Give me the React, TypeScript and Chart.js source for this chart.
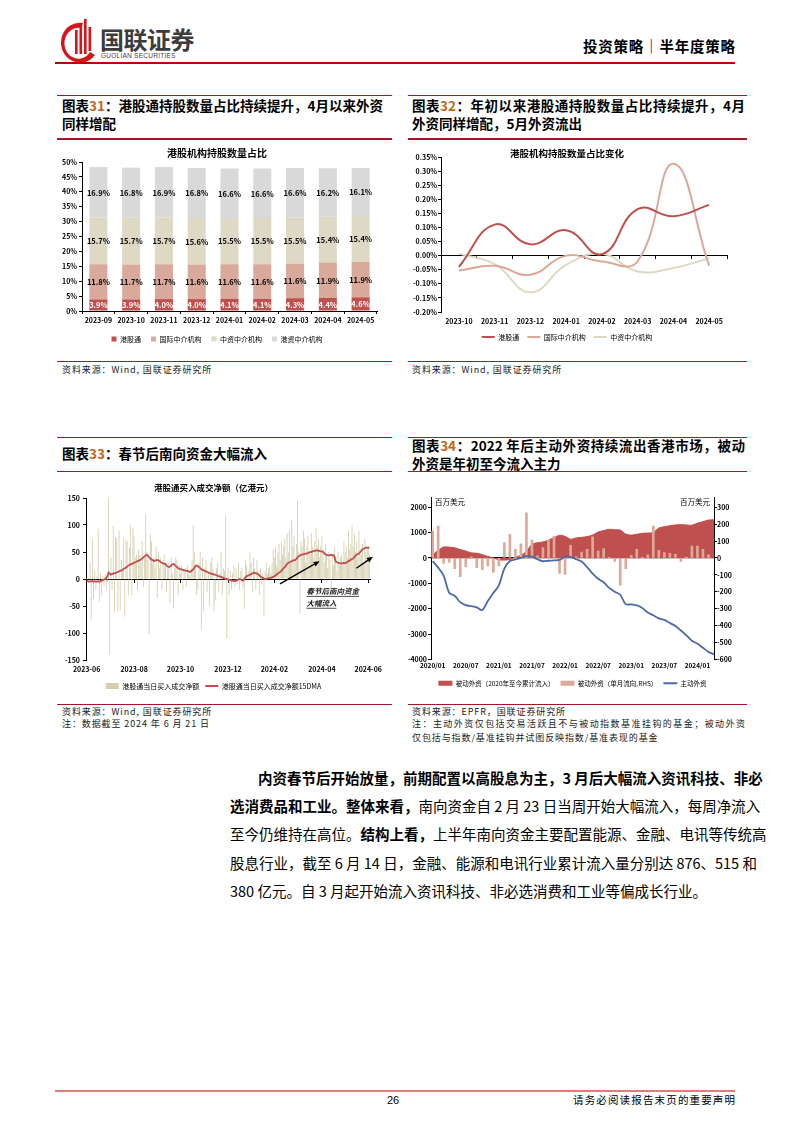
import React, { useEffect, useRef } from 'react';
import { Chart, registerables } from 'chart.js';

Chart.register(...registerables);

const FONT = '"Noto Sans CJK SC", "Noto Sans", sans-serif';
Chart.defaults.font.family = FONT;
Chart.defaults.color = '#000';

/* ---------------- 图表31 ---------------- */
const months31 = ['2023-09', '2023-10', '2023-11', '2023-12', '2024-01', '2024-02', '2024-03', '2024-04', '2024-05'];
const series31 = ['港股通', '国际中介机构', '中资中介机构', '港资中介机构'];
const sbShare31 = [3.9, 3.9, 4.0, 4.0, 4.1, 4.1, 4.3, 4.4, 4.6];
const intlShare31 = [11.8, 11.7, 11.7, 11.6, 11.6, 11.6, 11.6, 11.9, 11.9];
const cnShare31 = [15.7, 15.7, 15.7, 15.6, 15.5, 15.5, 15.5, 15.4, 15.4];
const hkShare31 = [16.9, 16.8, 16.9, 16.8, 16.6, 16.6, 16.6, 16.2, 16.1];

/* ---------------- 图表32 ---------------- */
const months32 = ['2023-10', '2023-11', '2023-12', '2024-01', '2024-02', '2024-03', '2024-04', '2024-05'];
const series32 = ['港股通', '国际中介机构', '中资中介机构'];
const sbChg32 = [-0.04, 0.11, 0.04, 0.09, 0.005, 0.165, 0.14, 0.18];
const intlChg32 = [-0.053, -0.036, -0.068, 0.0, -0.021, -0.02, 0.326, -0.036];
const cnChg32 = [0.007, -0.03, -0.13, -0.033, 0.007, -0.056, -0.044, -0.009];

/* ---------------- 图表33 ---------------- */
const tickIdx33 = [0, 41, 81, 122, 162, 203, 243];
const tickText33 = ['2023-06', '2023-08', '2023-10', '2023-12', '2024-02', '2024-04', '2024-06'];
const series33 = ['港股通当日买入成交净额', '港股通当日买入成交净额15DMA'];
const dailyNet33 = [
  2, -5, 4, 32, -75, 73, -37, 17, -20, 5,
  93, -42, 10, -30, 5, -12, 8, -18, -5, 150,
  -140, 40, -20, 98, -62, 78, 75, -60, 90, -58,
  35, 20, 75, -70, 73, 70, -30, 58, 100, -30,
  95, 80, 40, 45, -20, 55, 45, 30, 70, -15,
  40, 120, 50, 35, -103, 83, 70, 30, 40, 20,
  60, -35, 50, 20, 40, -20, 35, 45, 30, -25,
  20, 30, -45, 40, 10, -55, 20, 40, 35, -30,
  25, 10, 25, -20, 15, 20, -15, 25, 10, 5,
  20, 35, 100, 50, 20, -30, -20, 30, 50, -95,
  40, -60, 20, 35, -25, 15, -50, 30, 40, 20,
  -60, -40, 20, 30, -25, 10, 50, -30, 20, 15,
  118, -110, 20, -30, 15, -20, 10, 25, -15, 20,
  -10, 30, -20, 15, 20, -15, -55, 35, 25, 10,
  15, 50, 30, -25, 40, 20, -20, 35, 15, -30,
  20, -10, 10, -70, 15, 30, 10, 20, 25, 10,
  30, 55, 40, 60, 25, 50, 65, 35, 70, 45,
  60, 75, 40, 85, 50, 90, 30, 110, 60, 80,
  40, 65, 145, 50, -65, 70, 60, 90, 75, 30,
  60, 80, 50, 45, 85, 60, 40, 70, 95, 60,
  75, 40, 60, 80, 55, 30, 65, 45, 20, 50,
  35, -30, 45, 25, 60, 40, 15, 50, 30, 40,
  45, 30, 70, 50, 60, 40, 90, 55, 65, 100,
  60, 85, 50, 70, 40, 90, 55, 45, 65, 30,
  75, 50, 60, 55, 45,
];
const ma15_33 = [
  -3, -4, -5, -5, -4, -4, -5, -4, -5, -5,
  -4, -5, -4, -3, -2, -1, 0, 2, 5, 12,
  10, 8, 9, 10, 11, 11, 12, 13, 14, 15,
  16, 17, 19, 20, 21, 23, 25, 26, 27, 28,
  29, 30, 31, 32, 33, 34, 35, 36, 38, 40,
  42, 44, 45, 43, 40, 38, 36, 35, 33, 34,
  35, 35, 35, 33, 31, 30, 29, 28, 28, 25,
  23, 22, 23, 25, 27, 28, 26, 24, 22, 20,
  19, 18, 18, 17, 16, 16, 15, 15, 14, 13,
  14, 16, 18, 21, 24, 25, 24, 22, 20, 18,
  17, 16, 15, 14, 13, 12, 11, 10, 10, 9,
  8, 8, 7, 6, 5, 5, 4, 3, 2, 1,
  0, 0, -1, -1, -2, -3, -3, -4, -4, -3,
  -2, -1, 0, -1, -2, -3, 0, 3, 5, 6,
  7, 8, 9, 10, 12, 11, 11, 10, 9, 7,
  5, 3, 2, 1, 0, 0, 1, 1, 2, 2,
  3, 4, 5, 7, 8, 10, 12, 13, 15, 18,
  20, 22, 25, 28, 30, 31, 32, 33, 34, 35,
  35, 37, 40, 42, 43, 45, 45, 46, 46, 47,
  47, 48, 49, 50, 50, 51, 52, 52, 53, 53,
  52, 52, 51, 51, 50, 48, 46, 45, 44, 44,
  44, 45, 44, 44, 40, 32, 31, 30, 30, 29,
  29, 29, 30, 29, 30, 32, 33, 34, 36, 37,
  38, 41, 43, 45, 46, 47, 50, 52, 55, 56,
  57, 58, 58, 58, 57,
];

/* ---------------- 图表34 ---------------- */
const xTickMonth34 = [0, 6, 12, 18, 24, 30, 36, 42, 48];
const xTickText34 = ['2020/01', '2020/07', '2021/01', '2021/07', '2022/01', '2022/07', '2023/01', '2023/07', '2024/01'];
const leftTicks34 = [2000, 1000, 0, -1000, -2000, -3000, -4000];
const rightTicks34 = [300, 200, 100, 0, -100, -200, -300, -400, -500, -600];
const series34 = ['被动外资（2020年至今累计流入）', '被动外资（单月流向,RHS）', '主动外资'];
const passiveCum34 = [
  120, 300, 430, 425, 400, 330, 270, 200, 185, 130,
  60, 0, -70, -85, -60, 40, 100, 260, 540, 600,
  630, 700, 800, 890, 850, 740, 790, 810, 840, 900,
  1020, 1080, 1130, 1110, 1100, 940, 900, 930, 970, 980,
  1000, 1180, 1230, 1270, 1300, 1310, 1300, 1290, 1370, 1430,
  1490, 1500,
];
const passiveMonthly34 = [
  159, 188, -33, -27, -63, -110, -53, 6, -57, -70,
  -47, -86, -47, 90, 139, 51, 84, 267, 106, 12,
  61, 104, 129, -92, -98, 75, 8, 35, 51, 125,
  41, 55, 2, -20, -161, -63, 16, 51, 2, 18,
  188, 45, 31, 27, 22, -20, 2, 70, 70, 51,
  18,
];
const activeCum34 = [
  -120, -380, -700, -1370, -1490, -1740, -1860, -1900, -1950, -2050,
  -1700, -1380, -1080, -420, -120, -60, 0, 70, 55, -53,
  -130, -110, -100, -80, 40, 40, -50, -140, -360, -620,
  -820, -960, -1180, -1330, -1450, -1820, -1830, -1870, -1970, -2150,
  -2260, -2380, -2440, -2560, -2680, -2860, -3050, -3260, -3380, -3540,
  -3700, -3800,
];

/* ---------------- plugins ---------------- */
const barLabels31 = {
  id: 'barLabels31',
  afterDatasetsDraw(chart: any) {
    const ctx = chart.ctx;
    ctx.save();
    ctx.font = `bold 7.5px ${FONT}`;
    ctx.textAlign = 'center';
    ctx.textBaseline = 'middle';
    chart.data.datasets.forEach((ds: any, di: number) => {
      const meta = chart.getDatasetMeta(di);
      meta.data.forEach((el: any, i: number) => {
        const p = el.getProps(['x', 'y', 'base'], true);
        ctx.fillStyle = di === 0 ? '#fff' : '#000';
        ctx.fillText(Number(ds.data[i]).toFixed(1) + '%', p.x, (p.y + p.base) / 2 + 0.5);
      });
    });
    ctx.restore();
  },
};

const annot33 = {
  id: 'annot33',
  afterDatasetsDraw(chart: any, _a: any, opts: any) {
    const xs = chart.scales.x;
    const ys = chart.scales.y;
    const ctx = chart.ctx;
    ctx.save();
    ctx.strokeStyle = '#000';
    ctx.fillStyle = '#000';
    ctx.lineWidth = 1.3;
    for (const a of opts.arrows) {
      const x1 = xs.getPixelForValue(a.from[0]);
      const y1 = ys.getPixelForValue(a.from[1]);
      const x2 = xs.getPixelForValue(a.to[0]);
      const y2 = ys.getPixelForValue(a.to[1]);
      const ang = Math.atan2(y2 - y1, x2 - x1);
      const c = Math.cos(ang);
      const s = Math.sin(ang);
      ctx.beginPath();
      ctx.moveTo(x1, y1);
      ctx.lineTo(x2 - 4 * c, y2 - 4 * s);
      ctx.stroke();
      ctx.beginPath();
      ctx.moveTo(x2, y2);
      ctx.lineTo(x2 - 6 * c + 2.6 * s, y2 - 6 * s - 2.6 * c);
      ctx.lineTo(x2 - 6 * c - 2.6 * s, y2 - 6 * s + 2.6 * c);
      ctx.closePath();
      ctx.fill();
    }
    ctx.font = `italic bold 7.5px ${FONT}`;
    ctx.textBaseline = 'middle';
    ctx.textAlign = 'left';
    ctx.fillStyle = '#222';
    for (const t of opts.texts) {
      const x = xs.getPixelForValue(t.at[0]);
      const y = ys.getPixelForValue(t.at[1]);
      ctx.fillText(t.text, x, y);
      const w = ctx.measureText(t.text).width;
      ctx.fillRect(x, y + 4.5, w, 0.8);
    }
    ctx.restore();
  },
};

const units34 = {
  id: 'units34',
  afterDraw(chart: any, _a: any, opts: any) {
    const { ctx, chartArea } = chart;
    ctx.save();
    ctx.font = `7.5px ${FONT}`;
    ctx.fillStyle = '#000';
    ctx.textBaseline = 'middle';
    ctx.textAlign = 'left';
    ctx.fillText(opts.text, chartArea.left + 4, chartArea.top + 5);
    ctx.textAlign = 'right';
    ctx.fillText(opts.text, chartArea.right - 4, chartArea.top + 5);
    ctx.restore();
  },
};

const tickFont = { size: 7, weight: 'bold' as const };

/* ---------------- configs ---------------- */
function config31(): any {
  const colors = ['#C0504D', '#D9A99B', '#DDD9C4', '#D9D9D9'];
  const values = [sbShare31, intlShare31, cnShare31, hkShare31];
  return {
    type: 'bar',
    data: {
      labels: months31,
      datasets: series31.map((name, i) => ({
        label: name,
        data: values[i],
        backgroundColor: colors[i],
        borderWidth: 0,
        barPercentage: 0.55,
        categoryPercentage: 1,
        pointStyle: 'rect',
      })),
    },
    options: {
      responsive: false,
      animation: false,
      layout: { padding: { left: 0, right: 10, top: 0, bottom: 2.5 } },
      plugins: {
        title: { display: true, text: '港股机构持股数量占比', color: '#000', font: { size: 10, weight: 'bold' }, padding: { top: 7, bottom: 3 } },
        legend: { position: 'bottom', labels: { boxWidth: 5, boxHeight: 5, padding: 10, font: { size: 7 }, color: '#000' } },
        tooltip: { enabled: false },
      },
      scales: {
        x: {
          stacked: true,
          grid: { display: true, drawOnChartArea: false, tickLength: 3, color: '#000', offset: true },
          border: { color: '#000' },
          ticks: { font: tickFont, padding: 2, maxRotation: 0, autoSkip: false },
          afterFit: (s: any) => { s.height = 14.5; },
        },
        y: {
          stacked: true,
          min: 0,
          max: 50,
          ticks: { stepSize: 5, callback: (v: any) => v + '%', font: tickFont, padding: 2 },
          grid: { drawOnChartArea: false, tickLength: 3, color: '#000' },
          border: { color: '#000' },
          afterFit: (s: any) => { s.width = 25; },
        },
      },
    },
    plugins: [barLabels31],
  };
}

function config32(): any {
  const colors = ['#C0504D', '#DBA897', '#DDD9C3'];
  const values = [sbChg32, intlChg32, cnChg32];
  return {
    type: 'line',
    data: {
      labels: months32,
      datasets: series32.map((name, i) => ({
        label: name,
        data: values[i],
        borderColor: colors[i],
        backgroundColor: colors[i],
        borderWidth: 2,
        pointRadius: 0,
        pointBorderWidth: 2,
        pointStyle: 'line',
        tension: 0.45,
        fill: false,
      })),
    },
    options: {
      responsive: false,
      animation: false,
      layout: { padding: { left: 0, right: 15, top: 0, bottom: 4.5 } },
      plugins: {
        title: { display: true, text: '港股机构持股数量占比变化', color: '#000', font: { size: 9.5, weight: 'bold' }, padding: { top: 8, bottom: -2.4 } },
        legend: { position: 'bottom', labels: { usePointStyle: true, pointStyleWidth: 13, boxHeight: 6, padding: 8, font: { size: 7 }, color: '#000' } },
        tooltip: { enabled: false },
      },
      scales: {
        x: {
          offset: true,
          grid: { display: false, drawTicks: false },
          border: { display: false },
          ticks: { font: tickFont, padding: 5, maxRotation: 0, autoSkip: false },
          afterFit: (s: any) => { s.height = 13.5; },
        },
        x0: {
          axis: 'x',
          type: 'category',
          position: { y: 0 },
          offset: true,
          z: 1,
          grid: { offset: true, drawOnChartArea: false, tickLength: 3, color: '#000' },
          border: { color: '#000' },
          ticks: { display: false },
        },
        y: {
          min: -0.2,
          max: 0.35,
          ticks: {
            stepSize: 0.05,
            font: tickFont,
            padding: 1,
            callback: (v: any) => (Math.abs(v) < 1e-9 ? '0.00' : Number(v).toFixed(2)) + '%',
          },
          grid: { drawOnChartArea: false, tickLength: 3, color: '#000' },
          border: { color: '#000' },
          afterFit: (s: any) => { s.width = 34; },
        },
      },
    },
  };
}

function config33(): any {
  return {
    type: 'bar',
    data: {
      labels: dailyNet33.map((_, i) => i),
      datasets: [
        {
          type: 'bar',
          label: series33[0],
          data: dailyNet33,
          backgroundColor: '#D5CFAF',
          borderWidth: 0,
          barPercentage: 0.75,
          categoryPercentage: 1,
          order: 2,
          pointStyle: 'rect',
        },
        {
          type: 'line',
          label: series33[1],
          data: ma15_33,
          borderColor: '#C0504D',
          backgroundColor: '#C0504D',
          borderWidth: 1.8,
          pointRadius: 0,
          pointBorderWidth: 2,
          pointStyle: 'line',
          tension: 0,
          order: 1,
        },
      ],
    },
    options: {
      responsive: false,
      animation: false,
      layout: { padding: { left: 0, right: 23, top: 0, bottom: 1.5 } },
      plugins: {
        title: { display: true, text: '港股通买入成交净额（亿港元）', color: '#000', font: { size: 8.5, weight: 'bold' }, padding: { top: 6.9, bottom: 4.9 } },
        legend: {
          position: 'bottom',
          labels: {
            usePointStyle: true, pointStyleWidth: 13, boxHeight: 6, padding: 6, font: { size: 7 }, color: '#000',
            sort: (a: any, b: any) => a.datasetIndex - b.datasetIndex,
          },
        },
        tooltip: { enabled: false },
        annot33: {
          arrows: [
            { from: [166.8, -9], to: [201, 33] },
            { from: [232.7, 20], to: [247, 41] },
          ],
          texts: [
            { at: [189.7, -23], text: '春节后南向资金' },
            { at: [189.7, -45], text: '大幅流入' },
          ],
        },
      },
      scales: {
        x: {
          offset: true,
          grid: { display: false, drawTicks: false },
          border: { display: false },
          ticks: {
            font: tickFont, padding: 5, maxRotation: 0, autoSkip: false,
            callback: (v: any) => tickText33[tickIdx33.indexOf(v)] ?? '',
          },
          afterBuildTicks: (s: any) => { s.ticks = tickIdx33.map((v) => ({ value: v })); },
          afterFit: (s: any) => { s.height = 16.5; },
        },
        x0: {
          axis: 'x',
          type: 'category',
          position: { y: 0 },
          offset: true,
          z: 1,
          grid: { offset: false, drawOnChartArea: false, tickLength: 3, color: '#000' },
          border: { color: '#000' },
          ticks: { display: false },
          afterBuildTicks: (s: any) => { s.ticks = tickIdx33.map((v) => ({ value: v })); },
        },
        y: {
          min: -150,
          max: 150,
          ticks: { stepSize: 50, font: tickFont, padding: 3 },
          grid: { drawOnChartArea: false, tickLength: 3, color: '#000' },
          border: { color: '#000' },
          afterFit: (s: any) => { s.width = 29; },
        },
      },
    },
    plugins: [annot33],
  };
}

function config34(): any {
  return {
    type: 'bar',
    data: {
      datasets: [
        {
          type: 'line',
          label: series34[0],
          data: passiveCum34.map((v, i) => ({ x: i, y: v })),
          yAxisID: 'y',
          fill: 'origin',
          backgroundColor: '#C0504D',
          borderColor: '#C0504D',
          borderWidth: 1,
          pointRadius: 0,
          pointBorderWidth: 0,
          pointStyle: 'rect',
          tension: 0.3,
          order: 3,
        },
        {
          type: 'bar',
          label: series34[1],
          data: passiveMonthly34.map((v, i) => ({ x: i, y: v })),
          yAxisID: 'y2',
          backgroundColor: '#DDAA9A',
          borderWidth: 0,
          barThickness: 2,
          pointStyle: 'rect',
          order: 2,
        },
        {
          type: 'line',
          label: series34[2],
          data: activeCum34.map((v, i) => ({ x: i, y: v })),
          yAxisID: 'y',
          borderColor: '#4A6BA6',
          backgroundColor: '#4A6BA6',
          borderWidth: 1.8,
          pointRadius: 0,
          pointBorderWidth: 2,
          pointStyle: 'line',
          tension: 0.3,
          fill: false,
          order: 1,
        },
      ],
    },
    options: {
      responsive: false,
      animation: false,
      layout: { padding: { left: 0, right: 5, top: 7, bottom: 1.5 } },
      plugins: {
        legend: {
          position: 'bottom',
          labels: {
            usePointStyle: true, pointStyleWidth: 14, boxHeight: 5, padding: 6, font: { size: 6.5 }, color: '#000',
            sort: (a: any, b: any) => a.datasetIndex - b.datasetIndex,
          },
        },
        tooltip: { enabled: false },
        units34: { text: '百万美元' },
      },
      scales: {
        x: {
          type: 'linear',
          offset: false,
          min: -0.3,
          max: 51,
          grid: { display: false, drawTicks: false, offset: false },
          border: { display: false },
          ticks: {
            font: { size: 6.5, weight: 'bold' }, padding: 2, maxRotation: 0, autoSkip: false,
            callback: (v: any) => xTickText34[xTickMonth34.indexOf(v)] ?? '',
          },
          afterBuildTicks: (s: any) => { s.ticks = xTickMonth34.map((v) => ({ value: v })); },
          afterFit: (s: any) => { s.height = 14.5; },
        },
        x0: {
          axis: 'x',
          type: 'linear',
          offset: false,
          position: { y: 0 },
          min: -0.3,
          max: 51,
          z: 1,
          grid: { display: false, drawTicks: false, offset: false },
          border: { color: '#000', width: 1.2 },
          ticks: { display: false },
        },
        y: {
          position: 'left',
          min: -4000,
          max: 2400,
          ticks: { font: tickFont, padding: 1, callback: (v: any) => String(v) },
          afterBuildTicks: (s: any) => { s.ticks = leftTicks34.map((v) => ({ value: v })); },
          grid: { drawOnChartArea: false, tickLength: 3, color: '#000' },
          border: { color: '#000' },
          afterFit: (s: any) => { s.width = 26; },
        },
        y2: {
          position: 'right',
          min: -600,
          max: 360,
          ticks: { font: tickFont, padding: 0, callback: (v: any) => String(v) },
          afterBuildTicks: (s: any) => { s.ticks = rightTicks34.map((v) => ({ value: v })); },
          grid: { drawOnChartArea: false, tickLength: 3, color: '#000' },
          border: { color: '#000' },
          afterFit: (s: any) => { s.width = 26; },
        },
      },
    },
    plugins: [units34],
  };
}

/* ---------------- components ---------------- */
function ChartBox(props: { left: number; top: number; width: number; height: number; make: () => any }) {
  const ref = useRef<HTMLCanvasElement>(null);
  useEffect(() => {
    const chart = new Chart(ref.current as HTMLCanvasElement, props.make());
    return () => chart.destroy();
  }, []);
  return (
    <div style={{ position: 'absolute', left: props.left, top: props.top, width: props.width, height: props.height }}>
      <canvas ref={ref} width={props.width} height={props.height} style={{ width: props.width, height: props.height, display: 'block' }} />
    </div>
  );
}

const RED_DARK = '#A3162B';

function HLine(p: { left: number; top: number; width: number; color?: string; h?: number }) {
  return <div style={{ position: 'absolute', left: p.left, top: p.top, width: p.width, height: p.h ?? 1.5, background: p.color ?? RED_DARK }} />;
}

function Txt(p: { left: number; top: number; width?: number; size: number; lh?: number; bold?: boolean; justify?: boolean; children: any; style?: any }) {
  return (
    <div
      style={{
        position: 'absolute', left: p.left, top: p.top, width: p.width, fontSize: p.size,
        lineHeight: (p.lh ?? p.size * 1.3) + 'px', fontWeight: p.bold ? 700 : 400, whiteSpace: 'nowrap',
        textAlign: p.justify ? 'justify' : 'left', textAlignLast: p.justify ? 'justify' : 'auto',
        ...(p.style || {}),
      }}
    >
      {p.children}
    </div>
  );
}

const NUM = { color: '#C0651A' };

export default function App() {
  const srcStyle = { letterSpacing: '0.9px', color: '#222' };
  return (
    <div style={{ position: 'relative', width: 794, height: 1123, overflow: 'hidden', background: '#fff', fontFamily: FONT, color: '#000' }}>
      <style>{'html,body{margin:0;padding:0;background:#fff}'}</style>

      {/* header */}
      <svg style={{ position: 'absolute', left: 56, top: 18 }} width="42" height="46" viewBox="0 0 42 46">
        <path d="M27 5 A19 20 0 1 0 39 37 L34 34 A14 15.5 0 1 1 25 10 Z" fill="#D7141A" />
        <rect x="19" y="12" width="2.6" height="24" fill="#D7141A" />
        <rect x="23.5" y="6" width="2.6" height="30" fill="#D7141A" />
        <rect x="28" y="1" width="2.6" height="35" fill="#D7141A" />
        <rect x="32.5" y="9" width="2.6" height="24" fill="#D7141A" />
      </svg>
      <Txt left={100} top={25} size={24} lh={28} bold style={{ color: '#3c3c3c', letterSpacing: '-0.5px' }}>国联证券</Txt>
      <Txt left={101} top={52} size={6.6} lh={8} style={{ color: '#444', fontFamily: '"Liberation Sans", Arial, sans-serif', letterSpacing: '0.2px' }}>GUOLIAN SECURITIES</Txt>
      <Txt left={583} top={37} width={152} size={14.5} lh={18} bold justify>投资策略｜半年度策略</Txt>
      <HLine left={55} top={62} width={680} color="#C00000" h={1.5} />

      {/* 图表31 / 32 titles */}
      <HLine left={57} top={94.5} width={335} />
      <Txt left={62} top={96} width={321} size={13.5} lh={18} bold justify>图表<span style={NUM}>31</span>：港股通持股数量占比持续提升，4月以来外资</Txt>
      <Txt left={62} top={114} size={13.5} lh={18} bold>同样增配</Txt>
      <HLine left={57} top={138} width={335} />

      <HLine left={408} top={94.5} width={339} />
      <Txt left={412} top={96} width={333} size={13.5} lh={18} bold justify>图表<span style={NUM}>32</span>：年初以来港股通持股数量占比持续提升，4月</Txt>
      <Txt left={412} top={114} size={13.5} lh={18} bold>外资同样增配，5月外资流出</Txt>
      <HLine left={408} top={138} width={339} />

      <ChartBox left={57} top={140} width={330} height={215} make={config31} />
      <ChartBox left={407} top={140} width={335} height={215} make={config32} />

      <HLine left={57} top={360.5} width={335} />
      <Txt left={62} top={363} size={9} lh={13} style={srcStyle}>资料来源：Wind, 国联证券研究所</Txt>
      <HLine left={408} top={360.5} width={339} />
      <Txt left={412} top={363} size={9} lh={13} style={srcStyle}>资料来源：Wind, 国联证券研究所</Txt>

      {/* 图表33 / 34 titles */}
      <HLine left={57} top={436.5} width={335} />
      <Txt left={62} top={444} size={13.5} lh={18} bold>图表<span style={NUM}>33</span>：春节后南向资金大幅流入</Txt>
      <HLine left={57} top={470.5} width={335} />

      <HLine left={408} top={436.5} width={339} />
      <Txt left={412} top={436} width={333} size={13.5} lh={18} bold justify>图表<span style={NUM}>34</span>：2022 年后主动外资持续流出香港市场，被动</Txt>
      <Txt left={412} top={454} size={13.5} lh={18} bold>外资是年初至今流入主力</Txt>
      <HLine left={408} top={470.5} width={339} />

      <ChartBox left={57} top={476} width={336} height={225} make={config33} />
      <ChartBox left={405} top={490} width={340} height={208} make={config34} />

      <HLine left={57} top={703.5} width={335} />
      <Txt left={62} top={705} size={9} lh={13} style={srcStyle}>资料来源：Wind, 国联证券研究所</Txt>
      <Txt left={62} top={717} size={9} lh={13} style={srcStyle}>注：数据截至 2024 年 6 月 21 日</Txt>
      <HLine left={408} top={703.5} width={339} />
      <Txt left={412} top={705} size={9} lh={13} style={srcStyle}>资料来源：EPFR，国联证券研究所</Txt>
      <Txt left={412} top={717} width={333} size={9} lh={13} justify style={{ color: '#222' }}>注：主动外资仅包括交易活跃且不与被动指数基准挂钩的基金；被动外资</Txt>
      <Txt left={412} top={731} size={9} lh={13} style={srcStyle}>仅包括与指数/基准挂钩并试图反映指数/基准表现的基金</Txt>

      {/* body paragraph */}
      <Txt left={258} top={764} width={482} size={14.5} lh={28} justify><b>内资春节后开始放量，前期配置以高股息为主，3 月后大幅流入资讯科技、非必</b></Txt>
      <Txt left={230} top={792} width={510} size={14.5} lh={28} justify><b>选消费品和工业。整体来看，</b>南向资金自 2 月 23 日当周开始大幅流入，每周净流入</Txt>
      <Txt left={230} top={820} width={510} size={14.5} lh={28} justify>至今仍维持在高位。<b>结构上看，</b>上半年南向资金主要配置能源、金融、电讯等传统高</Txt>
      <Txt left={230} top={849} width={510} size={14.5} lh={28} justify>股息行业，截至 6 月 14 日，金融、能源和电讯行业累计流入量分别达 876、515 和</Txt>
      <Txt left={230} top={877} size={14.5} lh={28}>380 亿元。自 3 月起开始流入资讯科技、非必选消费和工业等偏成长行业。</Txt>

      {/* footer */}
      <HLine left={55} top={1089.5} width={680} color="#E37B7B" h={2} />
      <Txt left={387} top={1093} size={11} lh={14} style={{ fontFamily: '"Liberation Sans", Arial, sans-serif' }}>26</Txt>
      <Txt left={573} top={1093} width={162} size={10.5} lh={14} justify>请务必阅读报告末页的重要声明</Txt>
    </div>
  );
}
